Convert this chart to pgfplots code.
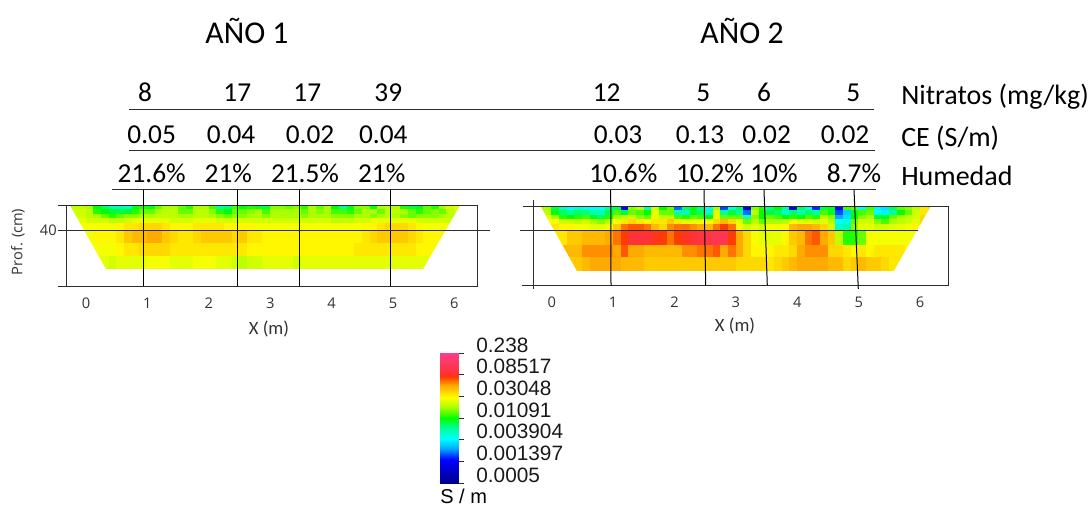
\documentclass[border=0pt]{standalone}
\usepackage{fontspec}
\usepackage{pgfplots}
\usepackage{pgfplotstable}
\pgfplotsset{compat=1.18}
\setmainfont{Carlito}
\newfontfamily\ar{Liberation Sans}
\newfontfamily\ta{Open Sans}
\newcommand{\bigf}{\fontsize{20.5}{24}\selectfont}
\newcommand{\labf}{\fontsize{21}{25}\selectfont}
\definecolor{ln}{RGB}{45,45,45}
\pgfplotsset{
 colormap={ce}{rgb255(0pt)=(0,0,140) rgb255(108pt)=(0,0,255) rgb255(160pt)=(0,170,255) rgb255(205pt)=(0,255,255) rgb255(255pt)=(0,255,150) rgb255(300pt)=(0,255,0) rgb255(350pt)=(170,255,0) rgb255(395pt)=(255,255,0) rgb255(450pt)=(255,170,0) rgb255(490pt)=(255,60,0) rgb255(505pt)=(255,50,50) rgb255(600pt)=(255,60,140)},
 panel/.style={scale only axis, axis on top, colormap name=ce, point meta min=0, point meta max=60,
  y dir=reverse, xtick={0,1,2,3,4,5,6}, xticklabels={0,1,2,3,4,5,6}, ytick={40}, yticklabels={40},
  major tick length=0pt, axis line style={draw=ln,line width=0.75pt},
  tick label style={font=\ta\fontsize{11}{13}\selectfont,text=black!80},
  xticklabel style={yshift=-5.5pt}, yticklabel style={xshift=-4pt}},
 cells/.style={surf, shader=flat corner, mesh/cols=53, mesh/rows=9, point meta=explicit}
}
\pgfplotstableread[row sep=crcr,header=false]{
36\\36\\35\\30\\27\\24\\24\\23\\29\\31\\29\\33\\35\\35\\33\\31\\35\\35\\32\\25\\26\\32\\30\\31\\29\\28\\34\\34\\33\\34\\31\\35\\33\\35\\30\\25\\29\\34\\34\\29\\35\\36\\35\\31\\28\\29\\33\\31\\35\\37\\38\\38\\38\\
37\\37\\36\\31\\30\\29\\28\\29\\31\\33\\33\\35\\36\\36\\33\\33\\36\\36\\34\\31\\30\\33\\33\\34\\35\\32\\35\\35\\35\\35\\33\\35\\34\\35\\32\\32\\31\\33\\35\\35\\33\\36\\36\\35\\33\\31\\33\\34\\33\\36\\37\\38\\38\\
37\\37\\36\\35\\33\\31\\33\\34\\34\\35\\35\\36\\36\\36\\35\\35\\36\\36\\35\\34\\33\\34\\34\\35\\35\\34\\35\\35\\35\\35\\34\\35\\35\\35\\34\\34\\34\\35\\35\\34\\35\\36\\35\\34\\33\\34\\34\\34\\35\\36\\37\\37\\37\\
38\\38\\37\\37\\37\\36\\36\\37\\38\\38\\38\\38\\38\\37\\37\\37\\38\\38\\38\\37\\37\\37\\37\\37\\37\\37\\37\\37\\37\\37\\37\\37\\37\\37\\36\\36\\36\\37\\37\\38\\38\\38\\38\\38\\38\\37\\37\\37\\37\\37\\37\\37\\37\\
39\\39\\39\\39\\39\\39\\40\\41\\41\\42\\42\\42\\41\\40\\40\\40\\41\\41\\41\\41\\40\\40\\40\\40\\39\\39\\39\\39\\39\\39\\39\\39\\39\\39\\39\\39\\39\\39\\40\\40\\41\\42\\42\\42\\41\\40\\39\\39\\39\\39\\39\\39\\39\\
39\\39\\39\\40\\40\\40\\41\\43\\44\\44\\45\\45\\43\\42\\41\\41\\42\\43\\43\\43\\43\\42\\43\\41\\41\\40\\40\\40\\40\\40\\40\\40\\40\\40\\40\\40\\40\\40\\41\\42\\43\\43\\43\\43\\42\\41\\40\\40\\40\\40\\40\\40\\40\\
39\\39\\39\\39\\39\\39\\40\\41\\41\\42\\42\\42\\42\\41\\41\\41\\41\\41\\41\\41\\41\\41\\41\\40\\40\\40\\40\\40\\40\\40\\40\\40\\40\\40\\40\\40\\40\\41\\41\\41\\41\\41\\41\\41\\41\\40\\40\\40\\40\\40\\40\\40\\40\\
38\\38\\38\\38\\38\\37\\38\\38\\38\\38\\39\\39\\39\\38\\38\\38\\39\\39\\39\\38\\38\\37\\36\\37\\37\\38\\38\\38\\38\\37\\38\\38\\38\\38\\38\\38\\38\\38\\38\\38\\38\\38\\38\\38\\38\\38\\38\\38\\38\\38\\38\\38\\38\\
0\\0\\0\\0\\0\\0\\0\\0\\0\\0\\0\\0\\0\\0\\0\\0\\0\\0\\0\\0\\0\\0\\0\\0\\0\\0\\0\\0\\0\\0\\0\\0\\0\\0\\0\\0\\0\\0\\0\\0\\0\\0\\0\\0\\0\\0\\0\\0\\0\\0\\0\\0\\0\\
}\tabL
\pgfplotstableread[row sep=crcr,header=false]{
35\\35\\28\\24\\21\\23\\22\\21\\21\\25\\28\\10\\34\\36\\24\\37\\30\\33\\14\\27\\30\\26\\22\\35\\13\\23\\27\\8\\34\\31\\26\\30\\25\\8\\27\\22\\12\\28\\29\\11\\32\\33\\22\\32\\20\\19\\27\\33\\34\\36\\41\\42\\42\\
36\\36\\30\\27\\25\\27\\26\\24\\24\\28\\32\\28\\33\\32\\30\\38\\33\\33\\24\\24\\29\\27\\23\\38\\25\\28\\25\\14\\36\\30\\28\\27\\23\\27\\24\\27\\25\\32\\29\\13\\18\\29\\32\\33\\21\\20\\25\\30\\33\\37\\41\\43\\43\\
38\\38\\35\\31\\30\\31\\32\\29\\27\\31\\35\\36\\37\\34\\33\\38\\36\\36\\32\\31\\33\\32\\30\\38\\33\\33\\33\\23\\34\\30\\33\\32\\30\\31\\30\\32\\31\\36\\34\\16\\19\\30\\34\\35\\28\\29\\33\\35\\36\\37\\42\\43\\43\\
40\\40\\39\\37\\37\\36\\37\\35\\34\\36\\39\\41\\42\\41\\40\\41\\41\\43\\41\\38\\38\\39\\39\\42\\44\\42\\38\\33\\36\\33\\35\\35\\36\\39\\38\\38\\37\\38\\36\\21\\22\\33\\37\\37\\34\\32\\35\\36\\37\\38\\42\\43\\43\\
41\\41\\41\\40\\40\\39\\39\\38\\38\\39\\43\\47\\48\\48\\47\\44\\42\\46\\47\\47\\46\\45\\44\\47\\49\\47\\40\\37\\38\\37\\39\\39\\40\\44\\45\\45\\44\\42\\37\\23\\24\\34\\38\\38\\37\\37\\38\\38\\39\\40\\40\\40\\40\\
41\\41\\41\\41\\43\\43\\44\\44\\44\\45\\47\\49\\51\\51\\51\\50\\49\\47\\49\\50\\51\\52\\53\\54\\54\\49\\45\\42\\39\\38\\38\\38\\40\\43\\44\\47\\48\\45\\43\\36\\31\\31\\33\\39\\39\\39\\39\\39\\39\\39\\39\\39\\39\\
44\\44\\44\\44\\44\\44\\46\\46\\46\\46\\45\\48\\45\\45\\44\\44\\44\\44\\44\\46\\46\\47\\47\\48\\45\\47\\45\\42\\40\\40\\40\\41\\41\\42\\45\\46\\46\\46\\42\\42\\41\\40\\41\\40\\41\\41\\41\\41\\40\\40\\40\\40\\40\\
43\\43\\43\\43\\43\\43\\44\\45\\45\\45\\45\\44\\44\\44\\43\\43\\43\\43\\43\\43\\43\\43\\43\\43\\43\\43\\42\\42\\42\\42\\41\\42\\43\\44\\45\\45\\45\\45\\44\\44\\42\\43\\44\\43\\43\\42\\41\\41\\40\\40\\40\\40\\40\\
0\\0\\0\\0\\0\\0\\0\\0\\0\\0\\0\\0\\0\\0\\0\\0\\0\\0\\0\\0\\0\\0\\0\\0\\0\\0\\0\\0\\0\\0\\0\\0\\0\\0\\0\\0\\0\\0\\0\\0\\0\\0\\0\\0\\0\\0\\0\\0\\0\\0\\0\\0\\0\\
}\tabR
\begin{document}
\begin{tikzpicture}
\path[use as bounding box] (0,0) rectangle (819pt,-379.5pt);
% left panel
\begin{axis}[panel, at={(50.025pt,-154.275pt)}, anchor=north west, width=308.25pt, height=60.45pt,
 xmin=-0.314, xmax=6.379, ymin=0, ymax=132.7]
\addplot[cells] table[x index=0, y index=0, x expr={-0.25+0.125*mod(\coordindex,53)},
 y expr={\coordindex<53?0:(\coordindex<106?5.9:(\coordindex<159?14.1:(\coordindex<212?20.7:(\coordindex<265?28.9:(\coordindex<318?40:(\coordindex<371?61.9:(\coordindex<424?83.8:104.5)))))))}, meta index=0] {\tabL};
\fill[white] (axis cs:-0.27,0) -- (axis cs:-0.26,0) -- (axis cs:0.326,104.5) -- (axis cs:0.326,108) -- (axis cs:-0.27,108) -- cycle;
\fill[white] (axis cs:6.09,0) -- (axis cs:5.49,104.5) -- (axis cs:5.49,108) -- (axis cs:6.32,108) -- (axis cs:6.32,0) -- cycle;
\fill[white] (axis cs:0.3,104.5) rectangle (axis cs:5.52,108);
\end{axis}
% right panel
\begin{axis}[panel, at={(399.975pt,-155.025pt)}, anchor=north west, width=311.03pt, height=58.95pt,
 xmin=-0.2997, xmax=6.454, ymin=0, ymax=134.96, ytick=\empty]
\addplot[cells] table[x index=0, y index=0, x expr={-0.25+0.125*mod(\coordindex,53)},
 y expr={\coordindex<53?0:(\coordindex<106?6.8:(\coordindex<159?15.4:(\coordindex<212?22.3:(\coordindex<265?29.7:(\coordindex<318?41.2:(\coordindex<371?65.9:(\coordindex<424?87:110)))))))}, meta index=0] {\tabR};
\fill[white] (axis cs:-0.27,0) -- (axis cs:-0.179,0) -- (axis cs:0.407,110) -- (axis cs:0.407,114) -- (axis cs:-0.27,114) -- cycle;
\fill[white] (axis cs:6.17,0) -- (axis cs:5.575,110) -- (axis cs:5.575,114) -- (axis cs:6.32,114) -- (axis cs:6.32,0) -- cycle;
\fill[white] (axis cs:0.38,110) rectangle (axis cs:5.6,114);
\end{axis}
% colour scale
\begin{axis}[scale only axis, at={(330pt,-264.75pt)}, anchor=north west, width=13.75pt, height=97.5pt,
 colormap name=ce, point meta min=0, point meta max=6, xmin=0, xmax=1, ymin=0, ymax=6, xtick=\empty,
 ytick={0,1,2,3,4,5,6}, yticklabels={0.0005,0.001397,0.003904,0.01091,0.03048,0.08517,0.238},
 yticklabel pos=right, tick align=outside, major tick length=4.5pt, tick style={draw=ln,line width=0.75pt},
 ytick pos=right, axis line style={draw=blue!25!white,line width=0.5pt},
 yticklabel style={font=\ar\fontsize{15.6}{18}\selectfont,anchor=west,xshift=5.5pt,yshift=6pt,text=black!90}]
\addplot[surf, shader=interp, mesh/rows=2, mesh/cols=2, point meta=y] coordinates {(0,0)(1,0)(0,6)(1,6)};
\end{axis}
\begin{scope}[x=0.75pt,y=-0.75pt]
% guide lines
\draw[ln,line width=0.75pt] (129,109.7)--(874,109.7);
\draw[ln,line width=0.75pt] (129,150.7)--(875,150.7);
\draw[ln,line width=0.75pt] (112.3,190)--(875.7,190);
\foreach \x in {143.3,237.7,299.3,390} \draw[black,line width=0.75pt] (\x,190)--(\x,286.3);
\draw[black,line width=0.75pt] (610.7,190)--(611,285.3);
\draw[black,line width=0.75pt] (704,190)--(705.7,285.3);
\draw[black,line width=0.75pt] (764,190)--(767.3,285.3);
\draw[black,line width=0.75pt] (854,190)--(858.3,289);
\draw[ln,line width=0.75pt] (58,230)--(490,230);
\draw[ln,line width=0.75pt] (520,230)--(918,230);
\draw[ln,line width=0.75pt] (58,205.7)--(66.7,205.7) (58,286.3)--(66.7,286.3);
\draw[ln,line width=0.75pt] (523,206.7)--(533.3,206.7) (522,285.3)--(533.3,285.3) (533.3,200)--(533.3,206.7) (533.3,285.3)--(533.3,289);
% titles
\node[font=\fontsize{23.8}{28}\selectfont] at (247,31) {AÑO 1};
\node[font=\fontsize{23.8}{28}\selectfont] at (742,31) {AÑO 2};
% measured rows
\foreach \x/\t in {145/8,237.3/17,307.3/17,388.3/39,606.7/12,703.3/5,764/6,853.3/5} \node[font=\bigf] at (\x,92.7) {\t};
\foreach \x/\t in {151.7/0.05,231/0.04,310/0.02,383.3/0.04,618/0.03,700/0.13,766.7/0.02,845/0.02} \node[font=\bigf] at (\x,134.3) {\t};
\foreach \x/\t in {151.7/21.6\%,228.3/21\%,305/21.5\%,381.7/21\%,623.3/10.6\%,710/10.2\%,774/10\%,854/8.7\%} \node[font=\bigf] at (\x,173.3) {\t};
\node[font=\labf,anchor=west,inner sep=0pt] at (901,97) {Nitratos (mg/kg)};
\node[font=\labf,anchor=west,inner sep=0pt] at (901,138) {CE (S/m)};
\node[font=\labf,anchor=west,inner sep=0pt] at (901,175.7) {Humedad};
% axis words
\node[font=\ta\fontsize{11}{13}\selectfont,rotate=90,text=black!80] at (18,242) {Prof. (cm)};
\node[font=\fontsize{14}{16}\selectfont,text=black!80] at (269,329) {X (m)};
\node[font=\fontsize{14}{16}\selectfont,text=black!80] at (735,326) {X (m)};
\node[font=\ar\fontsize{15}{18}\selectfont,anchor=west,inner sep=0pt] at (440,496.5) {S / m};
\end{scope}
\end{tikzpicture}
\end{document}
